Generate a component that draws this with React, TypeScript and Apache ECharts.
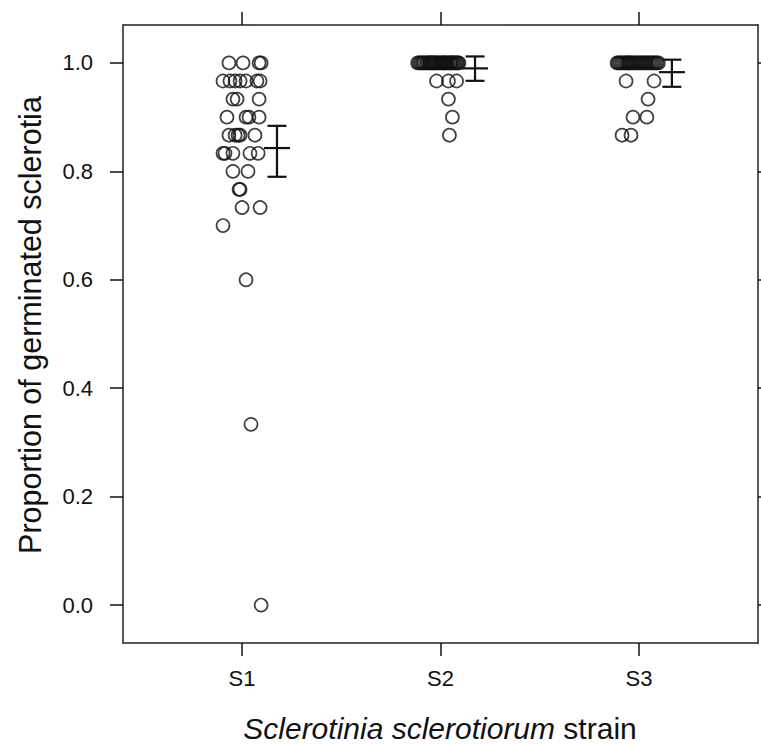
import React, { useEffect, useRef } from "react";
import * as echarts from "echarts";

const STRAINS = ["S1", "S2", "S3"];
const TICK_X = [1, 2, 3];
const TICK_Y = [0, 0.2, 0.4, 0.6, 0.8, 1.0];

// S1 observations (x = jittered strain position, y = proportion)
const S1_X = [0.934, 1.005, 1.086, 1.096, 0.904, 0.939, 0.965, 0.99, 1.02, 1.075, 1.091, 0.954, 0.975, 1.086, 0.924, 1.02, 1.035, 1.086, 0.934, 0.965, 0.98, 0.99, 1.065, 0.904, 0.914, 0.954, 1.04, 1.081, 0.954, 1.03, 0.985, 0.99, 1.0, 1.091, 0.904, 1.02, 1.045, 1.096];
const S1_Y = [1, 1, 1, 1, 0.9667, 0.9667, 0.9667, 0.9667, 0.9667, 0.9667, 0.9667, 0.9333, 0.9333, 0.9333, 0.9, 0.9, 0.9, 0.9, 0.8667, 0.8667, 0.8667, 0.8667, 0.8667, 0.8333, 0.8333, 0.8333, 0.8333, 0.8333, 0.8, 0.8, 0.7667, 0.7667, 0.7333, 0.7333, 0.7, 0.6, 0.3333, 0];

const S2_X = [1.885, 1.893, 1.9, 1.908, 1.914, 1.921, 1.93, 1.936, 1.944, 1.951, 1.958, 1.963, 1.972, 1.978, 1.986, 1.992, 2.0, 2.006, 2.013, 2.02, 2.027, 2.035, 2.041, 2.049, 2.055, 2.062, 2.068, 2.075, 2.081, 2.087, 2.093, 1.947, 2.016, 2.052, 1.968, 1.98, 2.04, 2.081, 2.04, 2.06, 2.045];
const S2_Y = [1, 1, 1, 1, 1, 1, 1, 1, 1, 1, 1, 1, 1, 1, 1, 1, 1, 1, 1, 1, 1, 1, 1, 1, 1, 1, 1, 1, 1, 1, 1, 1, 1, 1, 1, 0.9667, 0.9667, 0.9667, 0.9333, 0.9, 0.8667];

const S3_X = [2.89, 2.897, 2.905, 2.913, 2.921, 2.93, 2.937, 2.945, 2.953, 2.962, 2.97, 2.978, 2.986, 2.994, 3.002, 3.01, 3.018, 3.026, 3.034, 3.042, 3.05, 3.058, 3.066, 3.074, 3.082, 3.09, 3.098, 2.95, 2.935, 3.076, 3.046, 2.97, 3.04, 2.915, 2.96];
const S3_Y = [1, 1, 1, 1, 1, 1, 1, 1, 1, 1, 1, 1, 1, 1, 1, 1, 1, 1, 1, 1, 1, 1, 1, 1, 1, 1, 1, 1, 0.9667, 0.9667, 0.9333, 0.9, 0.9, 0.8667, 0.8667];

// Mean and confidence interval per strain
const EB_X = [1.176, 2.174, 3.166];
const EB_MEAN = [0.843, 0.99, 0.983];
const EB_LO = [0.79, 0.967, 0.956];
const EB_HI = [0.884, 1.012, 1.006];

const FONT = "'Liberation Sans', Arial, sans-serif";

export default function App() {
  const ref = useRef<HTMLDivElement>(null);
  useEffect(() => {
    if (!ref.current) return;
    const chart = echarts.init(ref.current, null, { renderer: "svg" });
    const pts = (xs: number[], ys: number[]) => xs.map((x, i) => [x, ys[i]]);
    const ebData = EB_X.map((x, i) => [x, EB_MEAN[i], EB_LO[i], EB_HI[i]]);
    const axisLine = { show: true, onZero: false, lineStyle: { color: "#222", width: 1.5 } };
    const tickStyle = { color: "#111", width: 1.5 };
    chart.setOption({
      animation: false,
      backgroundColor: "#fff",
      textStyle: { fontFamily: FONT },
      grid: { left: 123, right: 3, top: 25, bottom: 101, containLabel: false },
      xAxis: [
        {
          type: "value", position: "bottom", min: 0.4, max: 3.6,
          axisLine, splitLine: { show: false },
          axisTick: { show: true, customValues: TICK_X, length: 13, lineStyle: tickStyle },
          axisLabel: { show: true, customValues: TICK_X, formatter: (v: number) => STRAINS[Math.round(v) - 1], fontSize: 22, color: "#111", margin: 24, fontFamily: FONT },
        },
        {
          type: "value", position: "top", min: 0.4, max: 3.6,
          axisLine, splitLine: { show: false },
          axisTick: { show: true, customValues: TICK_X, length: 13, lineStyle: tickStyle },
          axisLabel: { show: false },
        },
      ],
      yAxis: [
        {
          type: "value", position: "left", min: -0.07, max: 1.07,
          axisLine, splitLine: { show: false },
          axisTick: { show: true, customValues: TICK_Y, length: 13, lineStyle: tickStyle },
          axisLabel: { show: true, customValues: TICK_Y, formatter: (v: number) => v.toFixed(1), fontSize: 22, color: "#111", margin: 30, fontFamily: FONT },
        },
        {
          type: "value", position: "right", min: -0.07, max: 1.07,
          axisLine, splitLine: { show: false },
          axisTick: { show: true, customValues: TICK_Y, length: 13, lineStyle: tickStyle },
          axisLabel: { show: false },
        },
      ],
      graphic: [
        {
          type: "text", x: 440, y: 728,
          style: {
            text: "{i|Sclerotinia sclerotiorum} strain",
            fontSize: 30, fontFamily: FONT, fill: "#111",
            align: "center", verticalAlign: "middle",
            rich: { i: { fontStyle: "italic", fontSize: 30, fontFamily: FONT, fill: "#111" } },
          },
        },
        {
          type: "text", x: 30, y: 325, rotation: Math.PI / 2,
          style: {
            text: "Proportion of germinated sclerotia",
            fontSize: 30.5, fontFamily: FONT, fill: "#111",
            align: "center", verticalAlign: "middle",
          },
        },
      ],
      series: [
        ...[pts(S1_X, S1_Y), pts(S2_X, S2_Y), pts(S3_X, S3_Y)].map((d, k) => ({
          name: STRAINS[k], type: "scatter", xAxisIndex: 0, yAxisIndex: 0,
          data: d, symbol: "circle", symbolSize: 13,
          itemStyle: { color: "rgba(0,0,0,0)", borderColor: "#111", borderWidth: 1.7 },
          emphasis: { disabled: true },
        })),
        {
          type: "custom", xAxisIndex: 0, yAxisIndex: 0, data: ebData,
          renderItem: (params: any, api: any) => {
            const x = api.value(0);
            const m = api.coord([x, api.value(1)]);
            const lo = api.coord([x, api.value(2)]);
            const hi = api.coord([x, api.value(3)]);
            const style = { stroke: "#111", lineWidth: 2.2 };
            return {
              type: "group",
              children: [
                { type: "line", shape: { x1: m[0], y1: lo[1], x2: m[0], y2: hi[1] }, style },
                { type: "line", shape: { x1: m[0] - 9.5, y1: lo[1], x2: m[0] + 9.5, y2: lo[1] }, style },
                { type: "line", shape: { x1: m[0] - 9.5, y1: hi[1], x2: m[0] + 9.5, y2: hi[1] }, style },
                { type: "line", shape: { x1: m[0] - 13, y1: m[1], x2: m[0] + 13, y2: m[1] }, style },
              ],
            };
          },
        },
      ],
    });
    return () => chart.dispose();
  }, []);
  return <div ref={ref} style={{ position: "fixed", left: 0, top: 0, width: 761, height: 744 }} />;
}
